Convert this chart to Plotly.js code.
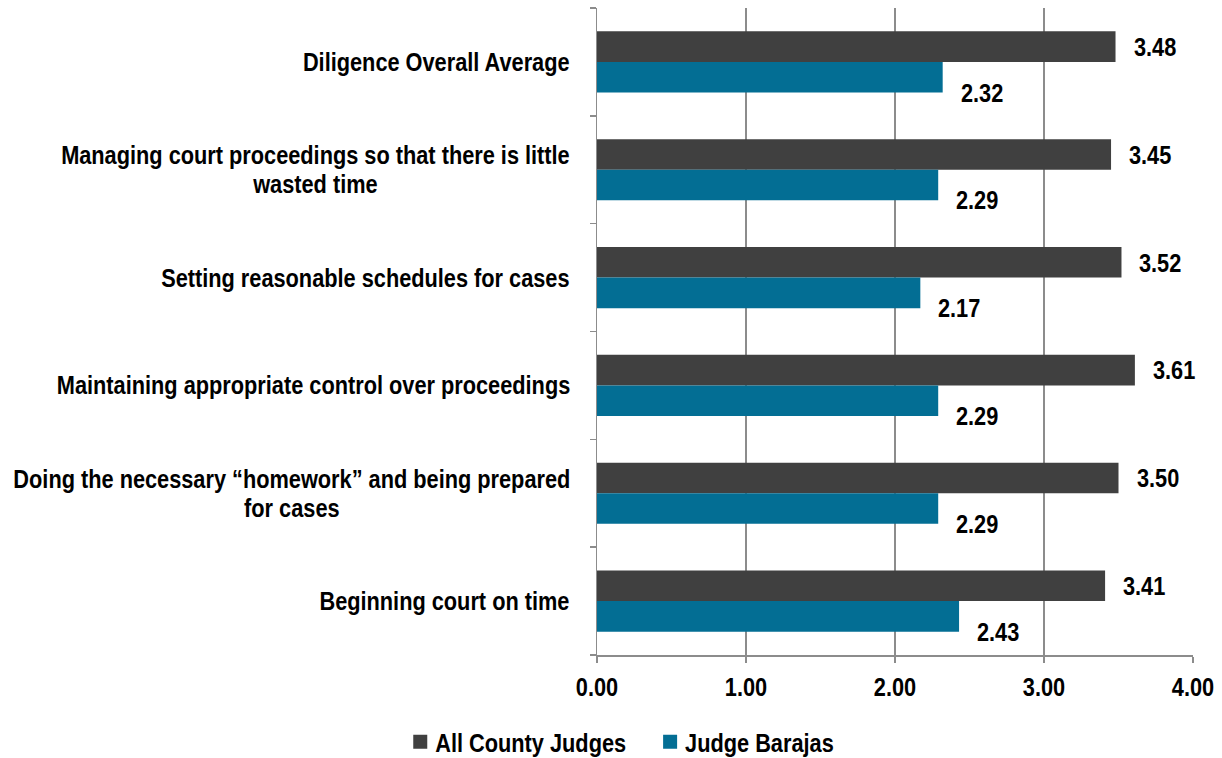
<!DOCTYPE html>
<html>
<head>
<meta charset="utf-8">
<script src="https://cdn.plot.ly/plotly-3.0.1.min.js"></script>
<style>html,body{margin:0;padding:0;background:#fff;}#chart{width:1222px;height:758px;}</style>
</head>
<body>
<div id="chart"></div>
<script>
var categories = [
  "Diligence Overall Average",
  "Managing court proceedings so that there is little<br>wasted time",
  "Setting reasonable schedules for cases",
  "Maintaining appropriate control over proceedings",
  "Doing the necessary \u201chomework\u201d and being prepared<br>for cases",
  "Beginning court on time"
];
var allCountyJudges = [3.48, 3.45, 3.52, 3.61, 3.50, 3.41];
var judgeBarajas = [2.32, 2.29, 2.17, 2.29, 2.29, 2.43];
var seriesNames = ["All County Judges", "Judge Barajas"];
var xTickVals = [0, 1, 2, 3, 4];
var xTickText = ["0.00", "1.00", "2.00", "3.00", "4.00"];

var FONT = "'Liberation Sans', Arial, sans-serif";
var FS = 25;
var SX = 0.87;
var DARK = "#404040", TEAL = "#036E94", GRID = "#8c8c8c";

var idx = categories.map(function(_, i){ return i; });

var traces = [
  {type: "bar", orientation: "h", name: seriesNames[0], x: allCountyJudges, y: idx,
   marker: {color: DARK}, hoverinfo: "x"},
  {type: "bar", orientation: "h", name: seriesNames[1], x: judgeBarajas, y: idx,
   marker: {color: TEAL}, hoverinfo: "x"}
];

var fnt = {family: FONT, size: FS, color: "#000", weight: "bold"};
var annotations = [];
categories.forEach(function(c, i){
  annotations.push({xref: "paper", x: 0, xshift: -25, xanchor: "right", yref: "y", y: i,
    text: c, showarrow: false, align: "center", font: fnt});
  annotations.push({xref: "x", x: allCountyJudges[i], xshift: 15, xanchor: "left", align: "left",
    yref: "y", y: i - 0.139, text: allCountyJudges[i].toFixed(2), showarrow: false,
    bgcolor: "#fff", borderpad: 2, font: fnt});
  annotations.push({xref: "x", x: judgeBarajas[i], xshift: 15, xanchor: "left", align: "left",
    yref: "y", y: i + 0.285, text: judgeBarajas[i].toFixed(2), showarrow: false,
    bgcolor: "#fff", borderpad: 2, font: fnt});
});

var layout = {
  width: 1222, height: 758,
  margin: {l: 597, r: 29, t: 8, b: 103},
  paper_bgcolor: "#fff", plot_bgcolor: "#fff",
  barmode: "group", bargap: 0.433, bargroupgap: 0,
  font: fnt,
  xaxis: {range: [0, 4], tickvals: xTickVals, ticktext: xTickText,
    showgrid: true, gridcolor: GRID, gridwidth: 1.5, zeroline: false,
    showline: true, linecolor: GRID, linewidth: 1.5,
    ticks: "outside", ticklen: 6, tickcolor: GRID, tickwidth: 1.5, ticklabelstandoff: 4,
    tickfont: fnt},
  yaxis: {type: "linear", range: [5.5, -0.5], tickvals: [-0.5, 0.5, 1.5, 2.5, 3.5, 4.5, 5.5],
    showticklabels: false, showgrid: false, zeroline: false,
    showline: true, linecolor: GRID, linewidth: 1.5,
    ticks: "outside", ticklen: 6, tickcolor: GRID, tickwidth: 1.5},
  showlegend: true,
  legend: {orientation: "h", xref: "container", yref: "container", x: 0.51, xanchor: "center",
    y: 0.021, yanchor: "middle", font: fnt, traceorder: "normal"},
  annotations: annotations
};

function isNum(s){ return /^[\d.]+$/.test(s.trim()); }

function condense(gd){
  var legend = gd.querySelector(".legend");
  var items = legend ? Array.prototype.slice.call(legend.querySelectorAll(".traces")) : [];
  items.forEach(function(g){
    var t = g.querySelector("text.legendtext");
    if (t) {
      t.setAttribute("x", 35);
      t.querySelectorAll("tspan").forEach(function(s){ if (s.hasAttribute("x")) s.setAttribute("x", 35); });
    }
    g.querySelectorAll(".legendpoints path").forEach(function(p){ p.setAttribute("d", "M7,7H-7V-7H7Z"); });
  });

  gd.querySelectorAll("text").forEach(function(t){
    if (!t.textContent) return;
    var ann = t.closest(".annotation");
    var tr = t.getAttribute("transform") || "";
    if (ann) {
      var lines = t.querySelectorAll("tspan.line");
      if (lines.length > 1) {
        for (var k = 1; k < lines.length; k++) lines[k].setAttribute("dy", "1.15em");
        tr += " translate(0," + (0.075 * FS * (lines.length - 1)) + ")";
      }
    }
    var bb = t.getBBox();
    var anchor = t.getAttribute("text-anchor") || "start";
    var px;
    if (ann && !isNum(t.textContent)) px = bb.x + bb.width;
    else if (anchor === "middle") px = bb.x + bb.width / 2;
    else if (anchor === "end") px = bb.x + bb.width;
    else px = bb.x;
    t.setAttribute("transform", (tr + " matrix(" + SX + ",0,0,1," + ((1 - SX) * px) + ",0)").trim());
    if (ann && isNum(t.textContent)) {
      var bg = ann.querySelector("rect.bg");
      if (bg) {
        var w = parseFloat(bg.getAttribute("width"));
        bg.setAttribute("width", (w - 4) * SX + 4);
      }
    }
  });

  if (items.length) {
    var X = 0;
    items.forEach(function(g){
      var tr = g.getAttribute("transform") || "translate(0,0)";
      var m = /translate\(\s*([-\d.e]+)[ ,]+([-\d.e]+)\s*\)/.exec(tr);
      var y = m ? parseFloat(m[2]) : 0;
      g.setAttribute("transform", "translate(" + X + "," + y + ")");
      var t = g.querySelector("text.legendtext");
      var w = t.getBoundingClientRect().width;
      X += w + 59;
    });
    var sym = items[0].querySelector(".legendpoints path").getBoundingClientRect();
    var lastT = items[items.length - 1].querySelector("text.legendtext").getBoundingClientRect();
    var center = (sym.left + lastT.right) / 2;
    var dx = 623.5 - center;
    var lt = legend.getAttribute("transform");
    var mm = /translate\(\s*([-\d.e]+)[ ,]+([-\d.e]+)\s*\)/.exec(lt);
    if (mm) legend.setAttribute("transform", "translate(" + (parseFloat(mm[1]) + dx) + "," + mm[2] + ")");
  }
}

Plotly.newPlot("chart", traces, layout, {displayModeBar: false, staticPlot: true}).then(condense);
</script>
</body>
</html>
